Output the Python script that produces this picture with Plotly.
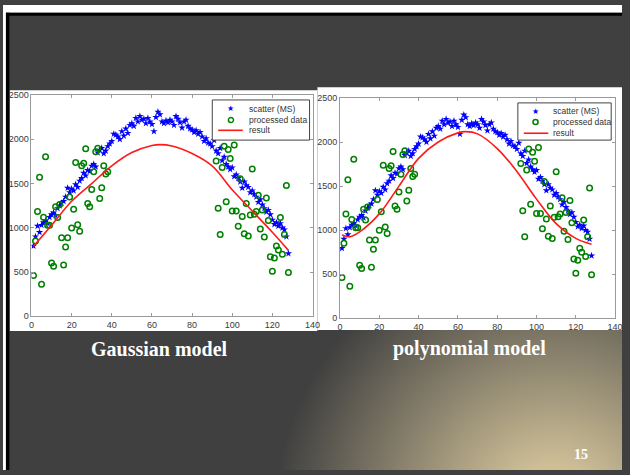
import base64, struct, zlib
import numpy as np
import plotly.graph_objects as go

# ---------------- data ----------------
ms_x = list(range(1, 129))
ms_y = [795, 900, 1020, 950, 1030, 1060, 1080, 1050, 1120, 1150,
        1170, 1140, 1220, 1250, 1280, 1300, 1350, 1450, 1400, 1440,
        1420, 1490, 1460, 1530, 1560, 1620, 1590, 1650, 1640, 1700,
        1720, 1690, 1850, 1880, 1900, 1840, 1870, 1920, 1950, 1980,
        2060, 2050, 2030, 2000, 2090, 2040, 2120, 2070, 2160, 2180,
        2150, 2240, 2200, 2260, 2220, 2230, 2180, 2240, 2200, 2170,
        2090, 2250, 2310, 2280, 2200, 2180, 2210, 2190, 2220, 2200,
        2160, 2260, 2230, 2190, 2130, 2200, 2220, 2150, 2120, 2110,
        2080, 2100, 2060, 2080, 2030, 1980, 2010, 1960, 1950, 1920,
        1990, 1870, 1840, 1900, 1760, 1800, 1720, 1690, 1660, 1680,
        1580, 1600, 1560, 1520, 1450, 1520, 1480, 1460, 1400, 1420,
        1380, 1350, 1290, 1320, 1260, 1220, 1180, 1200, 1150, 1090,
        1040, 1060, 1020, 1050, 1000, 980, 900, 710]

proc_x = list(range(1, 39)) + list(range(92, 129))
proc_y = [462, 850, 1183, 1571, 362, 1120, 1804, 1028, 1028, 603,
          566, 1238, 1116, 1264, 887, 580, 784, 887, 1349, 998,
          1209, 1738, 1035, 961, 1700, 1730, 1893, 1275, 1238, 1434,
          1634, 1860, 1900, 1331, 1453, 1700, 1608, 1634,
          1756, 1220, 924, 1682, 1922, 1294, 1885, 1782, 1190, 1937,
          1190, 1017, 1553, 1128, 932, 1275, 906, 1146, 1664, 1153,
          1183, 1368, 987, 1201, 895, 1338, 1083, 673, 510, 658,
          795, 750, 1116, 702, 924, 1479, 495]

gauss_x = [1, 10, 20, 30, 40, 50, 60, 64, 70, 80, 90, 100, 110, 120, 128]
gauss_y = [790, 1030, 1300, 1500, 1700, 1850, 1930, 1940, 1925, 1840, 1700, 1430, 1190, 950, 745]

poly_x = [1, 5, 10, 20, 30, 40, 50, 60, 64, 70, 80, 90, 100, 110, 120, 128]
poly_y = [944, 926, 981, 1185, 1500, 1815, 2000, 2104, 2118, 2093, 1926, 1667, 1352, 1074, 907, 840]

x_ticks = [0, 20, 40, 60, 80, 100, 120, 140]
y_ticks = [0, 500, 1000, 1500, 2000, 2500]
legend_names = ["scatter (MS)", "processed data", "result"]
captions = ["Gaussian model", "polynomial model"]
page_no = "15"

# ---------------- background gradient image ----------------
W, H = 630, 475
yy, xx = np.mgrid[0:H, 0:W]
r = np.hypot(xx - 560.0, yy - 520.0)
t = np.clip((284.0 - r) / 232.0, 0, 1)
c0 = np.array([64, 64, 64], float)
c1 = np.array([205, 190, 150], float)
img = (c0 + t[..., None] * (c1 - c0)).round().astype(np.uint8)
raw = b"".join(b"\x00" + img[i].tobytes() for i in range(H))


def chunk(tag, data):
    return struct.pack(">I", len(data)) + tag + data + struct.pack(">I", zlib.crc32(tag + data) & 0xFFFFFFFF)


png = (b"\x89PNG\r\n\x1a\n" + chunk(b"IHDR", struct.pack(">IIBBBBB", W, H, 8, 2, 0, 0, 0))
       + chunk(b"IDAT", zlib.compress(raw, 9)) + chunk(b"IEND", b""))
bg_uri = "data:image/png;base64," + base64.b64encode(png).decode()


def px(x):
    return x / W


def py(y):
    return 1 - y / H


# ---------------- figure ----------------
fig = go.Figure()

blue = "#0000ff"
green = "#008000"
red = "#ff1a1a"

for xa, ya, cx, cy in [("x", "y", gauss_x, gauss_y), ("x2", "y2", poly_x, poly_y)]:
    fig.add_trace(go.Scatter(x=ms_x, y=ms_y, mode="markers", name=legend_names[0],
                             xaxis=xa, yaxis=ya, showlegend=False,
                             marker=dict(symbol="star", size=5.5, color=blue, line=dict(width=0))))
    fig.add_trace(go.Scatter(x=proc_x, y=proc_y, mode="markers", name=legend_names[1],
                             xaxis=xa, yaxis=ya, showlegend=False,
                             marker=dict(symbol="circle-open", size=5.5, color=green,
                                         line=dict(width=1.5, color=green))))
    fig.add_trace(go.Scatter(x=cx, y=cy, mode="lines", name=legend_names[2],
                             xaxis=xa, yaxis=ya, showlegend=False,
                             line=dict(color=red, width=1.6, shape="spline", smoothing=1.0)))

axis_common = dict(showline=True, mirror="ticks", linecolor="#9a9a9a", linewidth=1,
                   ticks="inside", ticklen=3, tickcolor="#9a9a9a", showgrid=False, zeroline=False,
                   tickfont=dict(family="Arial", size=9, color="#3a3a3a"))

fig.update_layout(
    width=W, height=H, margin=dict(l=0, r=0, t=0, b=0),
    paper_bgcolor="#404040", plot_bgcolor="white",
    xaxis=dict(domain=[px(29), px(315)], range=[0, 140], tickvals=x_ticks, anchor="y", **axis_common),
    yaxis=dict(domain=[py(318), py(92)], range=[0, 2500], tickvals=y_ticks, anchor="x", **axis_common),
    xaxis2=dict(domain=[px(343), px(623)], range=[0, 140], tickvals=x_ticks, anchor="y2", **axis_common),
    yaxis2=dict(domain=[py(320), py(95)], range=[0, 2500], tickvals=y_ticks, anchor="x2", **axis_common),
    images=[dict(source=bg_uri, xref="paper", yref="paper", x=0, y=1, sizex=1, sizey=1,
                 sizing="stretch", xanchor="left", yanchor="top", layer="below")],
    showlegend=False,
)

shapes = [
    # top white strip and black border line
    dict(x0=px(0), x1=px(630), y0=py(8), y1=py(0), fillcolor="white"),
    dict(x0=px(0), x1=px(630), y0=py(11), y1=py(8), fillcolor="black"),
    # left white strip and black border line
    dict(x0=px(0), x1=px(3), y0=py(475), y1=py(0), fillcolor="white"),
    dict(x0=px(3), x1=px(6.5), y0=py(475), y1=py(8), fillcolor="black"),
    # white chart panels
    dict(x0=px(7), x1=px(320), y0=py(333), y1=py(87), fillcolor="white"),
    dict(x0=px(320), x1=px(630), y0=py(332), y1=py(84), fillcolor="white"),
]
for s in shapes:
    fig.add_shape(type="rect", xref="paper", yref="paper", layer="below", line=dict(width=0), **s)

# ---------------- legends (drawn as boxes + keys + text) ----------------
legend_boxes = [
    dict(box=(213, 97, 312, 138), kx=232, lx0=219, lx1=244, tx=248, ys=(106, 117.5, 128)),
    dict(box=(524, 100, 619, 138), kx=542, lx0=530, lx1=555, tx=558, ys=(108.5, 119.5, 131)),
]
for lg in legend_boxes:
    l, tp, rt, bt = lg["box"]
    fig.add_shape(type="rect", xref="paper", yref="paper", x0=px(l), x1=px(rt), y0=py(bt), y1=py(tp),
                  fillcolor="white", line=dict(color="#444444", width=1), layer="above")
    y1, y2, y3 = lg["ys"]
    fig.add_annotation(x=px(lg["kx"]), y=py(y1), xref="paper", yref="paper", showarrow=False,
                       xanchor="center", yanchor="middle", text="★",
                       font=dict(family="DejaVu Sans", size=8, color=blue))
    fig.add_shape(type="circle", xref="paper", yref="paper",
                  x0=px(lg["kx"] - 2.6), x1=px(lg["kx"] + 2.6), y0=py(y2 + 2.6), y1=py(y2 - 2.6),
                  line=dict(color=green, width=1.5), layer="above")
    fig.add_shape(type="line", xref="paper", yref="paper",
                  x0=px(lg["lx0"]), x1=px(lg["lx1"]), y0=py(y3), y1=py(y3),
                  line=dict(color=red, width=1.6), layer="above")
    for name, yv in zip(legend_names, lg["ys"]):
        fig.add_annotation(x=px(lg["tx"]), y=py(yv), xref="paper", yref="paper", showarrow=False,
                           xanchor="left", yanchor="middle", text=name,
                           font=dict(family="Arial", size=8.5, color="#333333"))

# ---------------- slide texts ----------------
fig.add_annotation(x=px(159), y=py(351), xref="paper", yref="paper", showarrow=False,
                   xanchor="center", yanchor="middle", text="<b>" + captions[0] + "</b>",
                   font=dict(family="Liberation Serif", size=20, color="white"))
fig.add_annotation(x=px(475), y=py(351), xref="paper", yref="paper", showarrow=False,
                   xanchor="center", yanchor="middle", text="<b>" + captions[1] + "</b>",
                   font=dict(family="Liberation Serif", size=20, color="white"))
fig.add_annotation(x=px(588), y=py(459), xref="paper", yref="paper", showarrow=False,
                   xanchor="center", yanchor="middle", text="<b>" + page_no + "</b>",
                   font=dict(family="Liberation Serif", size=14, color="white"))

# remove the default page margin synchronously (right after the plot call)
page_css = ("}); document.body.style.margin='0'; document.body.style.padding='0'; "
            "document.documentElement.style.overflow='hidden'; (function(){")

fig.write_html("out.html", config={"displayModeBar": False}, post_script=page_css)
